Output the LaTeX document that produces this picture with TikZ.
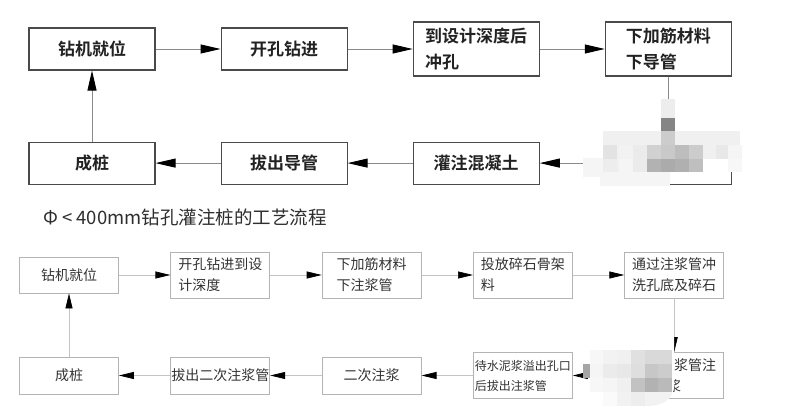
\documentclass[tikz,border=0pt]{standalone}
\usepackage{fontspec}
\usepackage{tikz}
\usetikzlibrary{positioning,arrows.meta}
\newfontfamily\cjk{Noto Sans CJK SC}[BoldFont={Noto Sans CJK SC Bold}]
\definecolor{ink}{HTML}{222222}
\definecolor{frame}{HTML}{4A4A4A}
\definecolor{wire}{HTML}{8A8A8A}
\definecolor{lightframe}{HTML}{B4B4B4}
\definecolor{lightwire}{HTML}{C4C4C4}
\definecolor{softink}{HTML}{333333}
\newcommand\topfont{\cjk\bfseries\fontsize{17}{26}\selectfont}
\newcommand\botfont{\cjk\fontsize{14}{21}\selectfont}
\tikzset{
  topbox/.style={rectangle,draw=frame,line width=1.1pt,fill=white,
    minimum width=126pt,minimum height=42pt,inner sep=0pt,
    align=left,font=\topfont,text=ink},
  botbox/.style={rectangle,draw=lightframe,line width=0.8pt,fill=white,
    minimum width=99pt,minimum height=46pt,inner sep=0pt,
    align=left,font=\botfont,text=softink},
  toparr/.style={-{Triangle[length=20pt,width=9pt,color=black]},draw=wire,line width=0.9pt},
  botarr/.style={-{Triangle[length=15pt,width=7pt,color=black]},draw=lightwire,line width=0.7pt},
  captext/.style={font=\cjk\fontsize{18.5}{22}\selectfont,text=black!82,inner sep=0pt},
}
\begin{document}
\begin{tikzpicture}[x=1pt,y=-1pt]
  \useasboundingbox[fill=white] (0,0) rectangle (800,411);
  % upper flow
  \node[topbox] (zj) at (92,49) {钻机就位};
  \node[topbox,right=65pt of zj] (kk) {开孔钻进};
  \node[topbox,right=65pt of kk,minimum height=54pt] (cs) {到设计深度后\\冲孔};
  \node[topbox,right=65pt of cs,minimum height=54pt] (xj) {下加筋材料\\下导管};
  \node[topbox,below=71pt of zj] (cz) {成桩};
  \node[topbox,right=65pt of cz] (bc) {拔出导管};
  \node[topbox,right=65pt of bc] (gz) {灌注混凝土};
  \node[topbox,right=65pt of gz] (hid) {};
  \foreach \a/\b in {zj/kk,kk/cs,cs/xj,xj/hid,hid/gz,gz/bc,bc/cz,cz/zj} \draw[toparr] (\a)--(\b);
  \node[captext,anchor=base west] (title) at (43,225) {Φ < 400mm钻孔灌注桩的工艺流程};
  % lower flow
  \node[botbox,minimum height=36pt] (bzj) at (69,275) {钻机就位};
  \node[botbox,right=51.5pt of bzj] (bkk) {开孔钻进到设\\计深度};
  \node[botbox,right=51.5pt of bkk] (bxj) {下加筋材料\\下注浆管};
  \node[botbox,right=51.5pt of bxj] (btf) {投放碎石骨架\\料};
  \node[botbox,right=51.5pt of btf] (bcx) {通过注浆管冲\\洗孔底及碎石};
  \node[botbox,minimum height=37pt] (bcz) at (69,375.5) {成桩};
  \node[botbox,right=51.5pt of bcz,minimum height=37pt] (bbc) {拔出二次注浆管};
  \node[botbox,right=51.5pt of bbc,minimum height=37pt] (bec) {二次注浆};
  \node[botbox,right=51.5pt of bec,font=\cjk\fontsize{12}{20}\selectfont] (bdw) {待水泥浆溢出孔口\\后拔出注浆管};
  \node[botbox,right=51.5pt of bdw,align=center] (bzz) {\phantom{通过注}浆管注\\浆};
  \foreach \a/\b in {bzj/bkk,bkk/bxj,bxj/btf,btf/bcx,bcx/bzz,bzz/bdw,bdw/bec,bec/bbc,bbc/bcz,bcz/bzj} \draw[botarr] (\a)--(\b);
  % mosaic over the upper hidden box
  \fill[black!6] (603,131) rectangle (740,172);
  \fill[black!4] (583,158) rectangle (603,177);
  \fill[black!4] (600,172) rectangle (670,186);
  \fill[black!7] (661,99) rectangle (675,118);
  \fill[black!48] (661,118) rectangle (675,131);
  \fill[black!20] (661,131) rectangle (675,145);
  \foreach \mx/\g in {603/11,619/5,633/8,647/18,661/21,675/26,689/20,703/6,716/9,728/4}
    \fill[black!\g] (\mx,145) rectangle ++(14,14);
  \foreach \mx/\g in {603/7,619/4,633/8,647/30,661/33,675/31,689/25,703/0,716/0,728/3}
    \fill[black!\g] (\mx,159) rectangle ++(14,13);
  % mosaic over the lower hidden box
  \begin{scope}
    \clip (578,337) -- (674,337) -- (674,388) .. controls (672,400) and (662,405) .. (650,406) -- (578,406) -- cycle;
    \fill[white] (590,337) rectangle (680,406);
    \fill[black!35] (583,364) rectangle (590,378);
    \foreach \mx/\g in {590/3,603/5,617/6,631/12,645/15,658/15}
      \fill[black!\g] (\mx,350) rectangle ++(14,14);
    \foreach \mx/\g in {590/4,603/8,617/9,631/13,645/22,658/20}
      \fill[black!\g] (\mx,364) rectangle ++(14,14);
    \foreach \mx/\g in {590/3,603/4,617/6,631/24,645/30,658/27}
      \fill[black!\g] (\mx,378) rectangle ++(14,14);
    \foreach \mx/\g in {603/2,617/5,631/7,645/5,658/5}
      \fill[black!\g] (\mx,392) rectangle ++(14,14);
  \end{scope}
\end{tikzpicture}
\end{document}
